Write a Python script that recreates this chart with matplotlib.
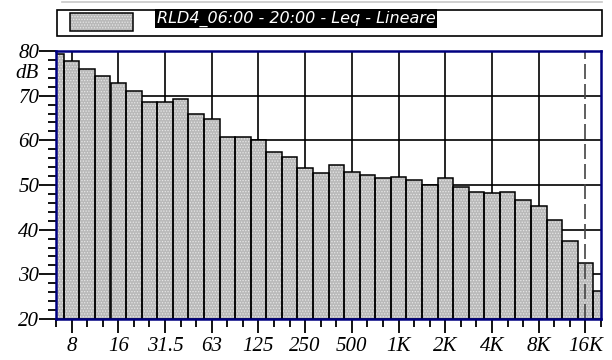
import matplotlib
matplotlib.use("Agg")
import matplotlib.pyplot as plt
from matplotlib.patches import Rectangle
from matplotlib.lines import Line2D
import numpy as np

# 1/3 octave bands, 6.3 Hz .. 20 kHz
bands = ["6.3", "8", "10", "12.5", "16", "20", "25", "31.5", "40", "50",
         "63", "80", "100", "125", "160", "200", "250", "315", "400", "500",
         "630", "800", "1K", "1.25K", "1.6K", "2K", "2.5K", "3.15K", "4K", "5K",
         "6.3K", "8K", "10K", "12.5K", "16K", "20K"]
leq = [79.3, 77.7, 75.9, 74.4, 72.9, 71.0, 68.5, 68.5, 69.2, 65.9,
       64.8, 60.7, 60.7, 60.1, 57.3, 56.3, 53.7, 52.6, 54.5, 53.0,
       52.2, 51.6, 51.9, 51.1, 50.0, 51.6, 49.6, 48.5, 48.1, 48.5,
       46.6, 45.4, 42.2, 37.5, 32.6, 26.3]
octave_labels = ["8", "16", "31.5", "63", "125", "250", "500", "1K", "2K", "4K", "8K", "16K"]
legend_text = "RLD4_06:00 - 20:00 - Leq - Lineare"
limit_band = "16K"

W, H = 612, 360
fig = plt.figure(figsize=(W / 100, H / 100), dpi=100)
ax = fig.add_axes([56 / W, (H - 319) / H, (601 - 56) / W, (319 - 51) / H])

x = np.arange(len(bands))
ymin = 20
heights = np.array(leq) - ymin

plt.rcParams['hatch.linewidth'] = 0.6
# stippled fill
ax.bar(x, heights, bottom=ymin, width=1.0, facecolor="#b9b9b9",
       edgecolor="#e6e6e6", hatch="......", linewidth=0, zorder=2)
# outlines
ax.bar(x, heights, bottom=ymin, width=1.0, facecolor="none",
       edgecolor="black", linewidth=1.1, zorder=3)

major_pos = [bands.index(l) for l in octave_labels]
ax.set_xlim(0, len(bands) - 1)
ax.set_ylim(20, 80)

# grid
for yv in range(30, 80, 10):
    ax.axhline(yv, color="black", lw=1.2, zorder=1)
for p in major_pos:
    if bands[p] != limit_band:
        ax.axvline(p, color="black", lw=1.2, zorder=1)
ax.axvline(bands.index(limit_band), color="#444444", lw=1.2,
           dashes=(9, 3), zorder=4)

serif = dict(family="Liberation Serif", style="italic", size=15)
ax.set_xticks(major_pos)
ax.set_xticklabels(octave_labels, **serif)
ax.set_xticks(x, minor=True)
ax.set_yticks(range(20, 81, 10))
ax.set_yticklabels([str(v) for v in range(20, 81, 10)], **serif)
ax.set_yticks(range(20, 81, 2), minor=True)
ax.tick_params(axis="x", which="major", length=10, width=1.3, pad=3, color="black")
ax.tick_params(axis="x", which="minor", length=6, width=1.3, color="black")
ax.tick_params(axis="y", which="major", length=12, width=1.3, pad=0, color="black")
ax.tick_params(axis="y", which="minor", length=6, width=1.3, color="black")

for s in ax.spines.values():
    s.set_color("#000080")
    s.set_linewidth(1.8)
    s.set_zorder(5)

fig.text(27 / W, 1 - 73 / H, "dB", ha="center", va="center", **serif)

# legend box
fig.add_artist(Line2D([62 / W, 602 / W], [1 - 1.5 / H, 1 - 1.5 / H],
                      color="#c8c8c8", lw=1.2))
fig.add_artist(Rectangle((57 / W, 1 - 36 / H), (602 - 57) / W, 26 / H,
                         facecolor="white", edgecolor="black", lw=1.2))
fig.add_artist(Rectangle((70 / W, 1 - 31 / H), 63 / W, 18 / H,
                         facecolor="#b9b9b9", edgecolor="#e6e6e6", hatch="......", lw=0))
fig.add_artist(Rectangle((70 / W, 1 - 31 / H), 63 / W, 18 / H,
                         facecolor="none", edgecolor="black", lw=1.1))
fig.text(157 / W, 1 - 18.5 / H, legend_text, ha="left", va="center",
         color="white", family="DejaVu Sans", style="italic", size=11.5,
         bbox=dict(facecolor="black", edgecolor="none", pad=1.2))

fig.savefig("out.png", dpi=100)
